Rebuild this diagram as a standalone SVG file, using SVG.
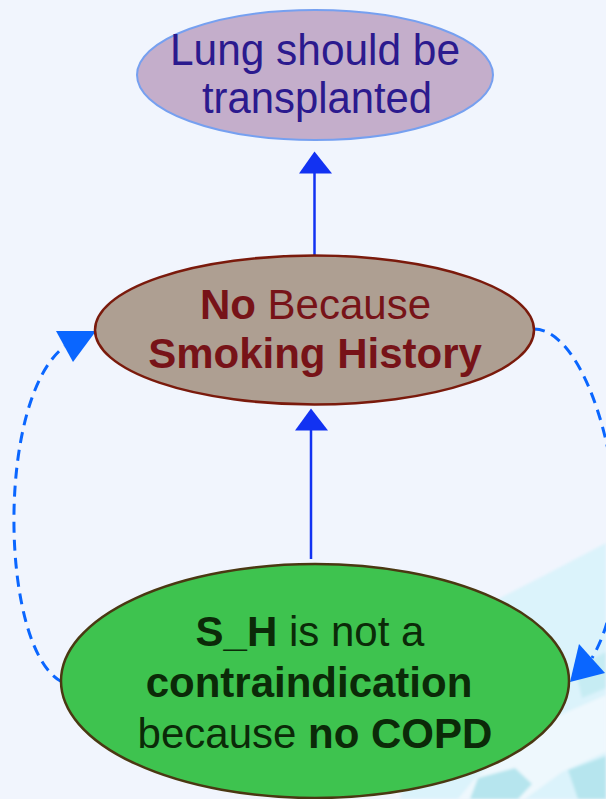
<svg xmlns="http://www.w3.org/2000/svg" width="606" height="799" viewBox="0 0 606 799">
  <style>
    .lbl { font-family: "Liberation Sans", Arial, sans-serif; font-size: 42px; text-anchor: middle; }
    .big { font-size: 45px; }
    .b { font-weight: bold; }
    .solid { fill: none; stroke: #1232f2; stroke-width: 2.5; }
    .dash { fill: none; stroke: #0a66ff; stroke-width: 3; stroke-dasharray: 11 7; }
    .headSolid { fill: #1232f2; }
    .headDash { fill: #0a66ff; }
  </style>
  <defs>
    <filter id="soft" x="-10%" y="-10%" width="120%" height="120%">
      <feGaussianBlur stdDeviation="1.5"/>
    </filter>
  </defs>

  <!-- page background -->
  <rect x="0" y="0" width="606" height="799" fill="#f1f5fd"/>

  <!-- pale cyan wash in the lower right corner -->
  <g id="backdrop" filter="url(#soft)">
    <polygon points="606,543 545,575 500,598 430,650 400,799 606,799" fill="#dbf3fb"/>
    <polygon points="606,695 560,715 505,748 472,782 458,799 525,799 562,772 606,752" fill="#eef8fd"/>
    <polygon points="575,668 606,652 606,688 582,698" fill="#c6ecf3"/>
    <polygon points="478,778 515,768 532,784 518,799 470,799" fill="#b6e5ee"/>
    <polygon points="568,770 606,756 606,799 578,799" fill="#b6e5ee"/>
    <polygon points="436,742 468,726 476,740 444,756" fill="#cbeef5"/>
  </g>

  <!-- connectors -->
  <g id="connectors">
    <!-- middle node to top node -->
    <line class="solid" x1="314.5" y1="256" x2="314.5" y2="172"/>
    <polygon class="headSolid" points="314.5,151.5 299,173.5 332,173.5"/>
    <!-- bottom node to middle node -->
    <line class="solid" x1="311" y1="559" x2="311" y2="429"/>
    <polygon class="headSolid" points="311,408.5 295,430.5 328,430.5"/>
    <!-- dashed loop on the left: bottom node back to middle node -->
    <path class="dash" d="M62,682 C0,650 -5,400 64.5,346.5"/>
    <polygon class="headDash" points="96,331 56,331 73,362"/>
    <!-- dashed loop on the right: middle node round to bottom node -->
    <path class="dash" d="M534,329 C600,330 650,560 592,658"/>
    <polygon class="headDash" points="570,682 579,644 605,673"/>
  </g>

  <!-- top node -->
  <g id="node-transplant">
    <ellipse cx="315" cy="75" rx="178" ry="65" fill="#c4aecb" stroke="#76a0f0" stroke-width="2"/>
    <text class="lbl big" x="315" y="65" fill="#2b1a8e" textLength="290" lengthAdjust="spacingAndGlyphs">Lung should be</text>
    <text class="lbl big" x="317" y="113" fill="#2b1a8e" textLength="230" lengthAdjust="spacingAndGlyphs">transplanted</text>
  </g>

  <!-- middle node -->
  <g id="node-smoking">
    <ellipse cx="314.5" cy="330" rx="219.5" ry="74.5" fill="#ae9f92" stroke="#7a1a0c" stroke-width="2.5"/>
    <text class="lbl" x="315.5" y="319" fill="#771318"><tspan class="b">No</tspan> Because</text>
    <text class="lbl b" x="315" y="368" fill="#771318">Smoking History</text>
  </g>

  <!-- bottom node -->
  <g id="node-copd">
    <ellipse cx="315" cy="681" rx="254" ry="117" fill="#3ec34f" stroke="#4a3812" stroke-width="2.5"/>
    <text class="lbl" x="310" y="646" fill="#0b2a08"><tspan class="b">S_H</tspan> is not a</text>
    <text class="lbl b" x="309" y="697" fill="#0b2a08">contraindication</text>
    <text class="lbl" x="315" y="748" fill="#0b2a08">because <tspan class="b">no COPD</tspan></text>
  </g>
</svg>
